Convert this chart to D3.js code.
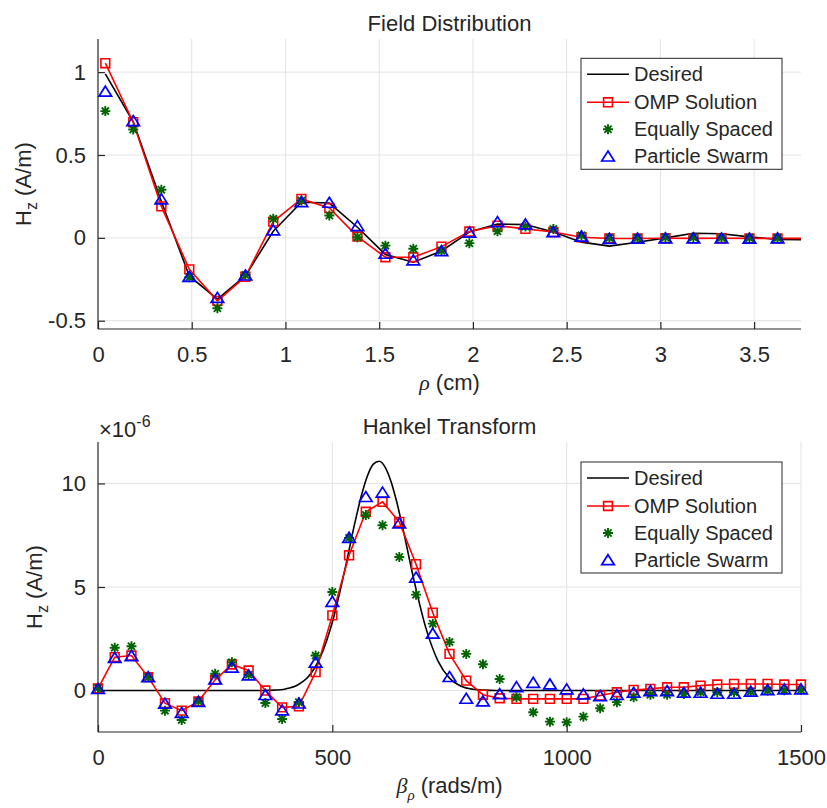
<!DOCTYPE html>
<html><head><meta charset="utf-8">
<script src="https://cdn.jsdelivr.net/npm/d3@7"></script>
<style>
body{margin:0;background:#fff}
text{font-family:"Liberation Sans",Arial,Helvetica,sans-serif;fill:#262626}
</style>
</head><body>
<svg id="c" width="827" height="808"></svg>
<script>
// ---------------- DATA ----------------
// Top panel: Field distribution, sample radii (cm)
const rhoSamples = [0.039,0.188,0.338,0.487,0.637,0.786,0.935,1.085,1.234,1.384,1.533,1.682,1.832,1.981,2.131,2.280,2.429,2.579,2.728,2.878,3.027,3.176,3.326,3.475,3.625,3.774];
const fieldDesired = [0.99,0.70,0.22,-0.23,-0.37,-0.23,0.04,0.215,0.21,0.064,-0.10,-0.147,-0.08,0.035,0.084,0.08,0.035,-0.026,-0.05,-0.027,0.0,0.028,0.025,0.006,-0.01,-0.012];
const fieldOMP = [1.054,0.698,0.19,-0.19,-0.38,-0.235,0.098,0.235,0.18,0.008,-0.117,-0.117,-0.053,0.038,0.074,0.054,0.035,0.004,-0.004,-0.004,-0.002,-0.003,-0.002,-0.003,-0.003,-0.003];
const fieldEqual = [0.765,0.654,0.29,-0.238,-0.425,-0.224,0.115,0.225,0.135,0.004,-0.047,-0.066,-0.077,-0.032,0.04,0.068,0.054,0.015,0.0,0.0,0.002,0.003,0.001,0.0,0.0,0.0];
const fieldPSO = [0.885,0.708,0.235,-0.232,-0.359,-0.224,0.048,0.219,0.215,0.074,-0.093,-0.133,-0.077,0.035,0.098,0.084,0.038,0.01,-0.003,-0.002,0.0,0.0,-0.001,-0.002,0.0,0.0];
const fieldXTicks = [0,0.5,1,1.5,2,2.5,3,3.5];
const fieldYTicks = [-0.5,0,0.5,1];

// Bottom panel: Hankel transform (x1e-6), sample betas (rads/m)
const betaSamples = [0,35.7,71.4,107.1,142.9,178.6,214.3,250,285.7,321.4,357.1,392.9,428.6,464.3,500,535.7,571.4,607.1,642.9,678.6,714.3,750,785.7,821.4,857.1,892.9,928.6,964.3,1000,1035.7,1071.4,1107.1,1142.9,1178.6,1214.3,1250,1285.7,1321.4,1357.1,1392.9,1428.6,1464.3,1500];
const hankelOMP = [0.1,1.61,1.69,0.65,-0.61,-0.97,-0.52,0.52,1.26,0.97,0.0,-0.81,-0.76,0.89,3.63,6.53,8.63,9.11,8.14,6.1,3.76,1.77,0.48,-0.2,-0.37,-0.4,-0.4,-0.4,-0.4,-0.4,-0.24,-0.08,0.03,0.08,0.16,0.16,0.24,0.29,0.32,0.32,0.32,0.29,0.29];
const hankelEqual = [0.12,2.07,2.14,0.65,-0.97,-1.42,-0.52,0.81,1.37,0.76,-0.6,-1.37,-0.56,1.69,4.76,7.37,8.47,7.98,6.45,4.63,3.23,2.34,1.77,1.27,0.56,-0.32,-1.05,-1.5,-1.53,-1.26,-0.85,-0.56,-0.32,-0.2,-0.2,-0.16,-0.08,-0.08,-0.08,-0.05,0.0,0.02,0.03];
const hankelPSO = [0.1,1.6,1.69,0.67,-0.61,-1.05,-0.52,0.56,1.13,0.76,-0.19,-0.93,-0.6,1.37,4.31,7.4,9.37,9.58,8.1,5.48,2.77,0.68,-0.37,-0.5,-0.15,0.19,0.4,0.32,0.08,-0.16,-0.24,-0.19,-0.08,0.0,0.0,-0.08,-0.08,-0.13,-0.13,-0.03,0.05,0.08,0.08];
const desiredBeta = [0,300,350,375,400,425,450,475,500,525,550,562.5,575,587.5,600,612.5,625,637.5,650,675,700,725,750,775,800,825,850,900,1500];
const hankelDesired = [0,0,0.005,0.02,0.08,0.26,0.70,1.65,3.30,5.66,8.29,9.45,10.37,10.93,11.07,10.79,10.11,9.10,7.88,5.25,2.99,1.45,0.60,0.21,0.065,0.02,0.005,0,0];
const hankelXTicks = [0,500,1000,1500];
const hankelYTicks = [0,5,10];

const legendLabels = ["Desired","OMP Solution","Equally Spaced","Particle Swarm"];

// ---------------- DRAWING ----------------
const RED = "#ff0000", BLUE = "#0000ff", GREEN = "#006400", AX = "#262626", GRID = "#e3e3e3";
const svg = d3.select("#c");
svg.append("rect").attr("width",827).attr("height",808).attr("fill","#fff");

const shapes = {
  square: "M-4.4,-4.4H4.4V4.4H-4.4Z",
  tri: "M0,-5L6.3,5L-6.3,5Z",
  star: "M-5,0H5M0,-5V5M-3.6,-3.6L3.6,3.6M-3.6,3.6L3.6,-3.6"
};
const widths = { square: 1.6, tri: 1.7, star: 1.9 };

function panel(o) {
  const x = d3.scaleLinear().domain(o.xDomain).range([98, 801]);
  const y = d3.scaleLinear().domain(o.yDomain).range([o.bottom, o.top]);
  const g = svg.append("g");
  const id = "clip" + o.name;
  svg.append("clipPath").attr("id", id).append("rect")
    .attr("x", 98).attr("y", o.top).attr("width", 703).attr("height", o.bottom - o.top);

  // grid
  g.append("g").selectAll("line").data(o.xTicks.filter(t => t > o.xDomain[0])).join("line")
    .attr("x1", d => x(d)).attr("x2", d => x(d)).attr("y1", o.top).attr("y2", o.bottom)
    .attr("stroke", GRID).attr("stroke-width", 1);
  g.append("g").selectAll("line").data(o.yTicks).join("line")
    .attr("y1", d => y(d)).attr("y2", d => y(d)).attr("x1", 98).attr("x2", 801)
    .attr("stroke", GRID).attr("stroke-width", 1);

  // axes
  const xa = g.append("g").attr("transform", `translate(0,${o.bottom})`)
    .call(d3.axisBottom(x).tickValues(o.xTicks).tickSizeInner(-7).tickSizeOuter(0).tickPadding(17).tickFormat(d => String(d)));
  const ya = g.append("g").attr("transform", `translate(98,0)`)
    .call(d3.axisLeft(y).tickValues(o.yTicks).tickSizeInner(-7).tickSizeOuter(0).tickPadding(12).tickFormat(d => String(d)));
  [xa, ya].forEach(a => {
    a.select(".domain").attr("stroke", AX).attr("stroke-width", 1.2);
    a.selectAll(".tick line").attr("stroke", AX).attr("stroke-width", 1.2);
    a.selectAll(".tick text").attr("font-size", 22).attr("fill", AX)
      .style("font-family", '"Liberation Sans",Arial,sans-serif');
  });
  ya.select(".domain").attr("d", `M0,${o.top}V${o.bottom}`);
  xa.select(".domain").attr("d", `M98,0H801`);

  // data
  const d = g.append("g").attr("clip-path", `url(#${id})`);
  const line = d3.line().x(p => x(p[0])).y(p => y(p[1]));
  const desired = d3.zip(o.desX, o.des);
  d.append("path").attr("d", line.curve(o.smooth ? d3.curveMonotoneX : d3.curveLinear)(desired))
    .attr("fill", "none").attr("stroke", "#000").attr("stroke-width", 1.6);
  line.curve(d3.curveLinear);
  const omp = d3.zip(o.sx, o.omp);
  d.append("path").attr("d", line(omp)).attr("fill", "none").attr("stroke", RED).attr("stroke-width", 1.6);
  const inside = p => p[0] <= o.xDomain[1];
  const mk = (pts, shape, col) => g.append("g").selectAll("path").data(pts.filter(inside)).join("path")
    .attr("transform", p => `translate(${x(p[0])},${y(p[1])})`)
    .attr("d", shapes[shape]).attr("fill", "none").attr("stroke", col).attr("stroke-width", widths[shape]);
  mk(omp, "square", RED);
  mk(d3.zip(o.sx, o.eq), "star", GREEN);
  mk(d3.zip(o.sx, o.pso), "tri", BLUE);

  // title
  svg.append("text").attr("x", 449.5).attr("y", o.top - 8).attr("text-anchor", "middle")
    .attr("font-size", 22).attr("fill", "#000").text(o.title);

  // y label
  const yl = svg.append("text").attr("transform", `translate(${o.ylx},${(o.top + o.bottom) / 2}) rotate(-90)`)
    .attr("text-anchor", "middle").attr("font-size", 22);
  yl.append("tspan").text("H");
  yl.append("tspan").attr("font-size", 16).attr("dy", 6).text("z");
  yl.append("tspan").attr("dy", -6).text(" (A/m)");

  // x label
  const xl = svg.append("text").attr("x", 449.5).attr("y", o.bottom + 61).attr("text-anchor", "middle").attr("font-size", 22);
  o.xlabel(xl);

  // legend
  const lg = svg.append("g");
  lg.append("rect").attr("x", 581).attr("y", o.legTop).attr("width", 201).attr("height", 111)
    .attr("fill", "#fff").attr("stroke", AX).attr("stroke-width", 1);
  const rows = [16, 44, 71, 97.7];
  legendLabels.forEach((lab, i) => {
    const cy = o.legTop + rows[i];
    if (i < 2) lg.append("line").attr("x1", 587).attr("x2", 629).attr("y1", cy).attr("y2", cy)
      .attr("stroke", i === 0 ? "#000" : RED).attr("stroke-width", 1.6);
    if (i > 0) {
      const s = ["", "square", "star", "tri"][i];
      lg.append("path").attr("transform", `translate(608,${cy})`)
        .attr("d", shapes[s]).attr("fill", "none")
        .attr("stroke", [null, RED, GREEN, BLUE][i]).attr("stroke-width", widths[s]);
    }
    lg.append("text").attr("x", 634).attr("y", cy + 7).attr("font-size", 20).attr("fill", "#000").text(lab);
  });
}

panel({
  name: "top", top: 39, bottom: 329, xDomain: [0, 3.75], yDomain: [-0.55, 1.2],
  xTicks: fieldXTicks, yTicks: fieldYTicks, sx: rhoSamples, desX: rhoSamples, des: fieldDesired,
  omp: fieldOMP, eq: fieldEqual, pso: fieldPSO, title: "Field Distribution", ylx: 31, legTop: 58.3, smooth: false,
  xlabel: t => {
    t.append("tspan").attr("font-style", "italic").style("font-family", '"Liberation Serif","DejaVu Serif",serif').text("ρ");
    t.append("tspan").text(" (cm)");
  }
});
panel({
  name: "bot", top: 442, bottom: 732, xDomain: [0, 1500], yDomain: [-2, 12],
  xTicks: hankelXTicks, yTicks: hankelYTicks, sx: betaSamples, desX: desiredBeta, des: hankelDesired,
  omp: hankelOMP, eq: hankelEqual, pso: hankelPSO, title: "Hankel Transform", ylx: 42, legTop: 462, smooth: true,
  xlabel: t => {
    t.append("tspan").attr("font-style", "italic").style("font-family", '"Liberation Serif","DejaVu Serif",serif').text("β");
    t.append("tspan").attr("font-style", "italic").attr("font-size", 15).attr("dy", 7).style("font-family", '"Liberation Serif","DejaVu Serif",serif').text("ρ");
    t.append("tspan").attr("dy", -7).text(" (rads/m)");
  }
});
// exponent label
const ex = svg.append("text").attr("x", 99).attr("y", 437).attr("font-size", 22);
ex.append("tspan").text("×10");
ex.append("tspan").attr("font-size", 16).attr("dy", -10).text("-6");
</script>
</body></html>
